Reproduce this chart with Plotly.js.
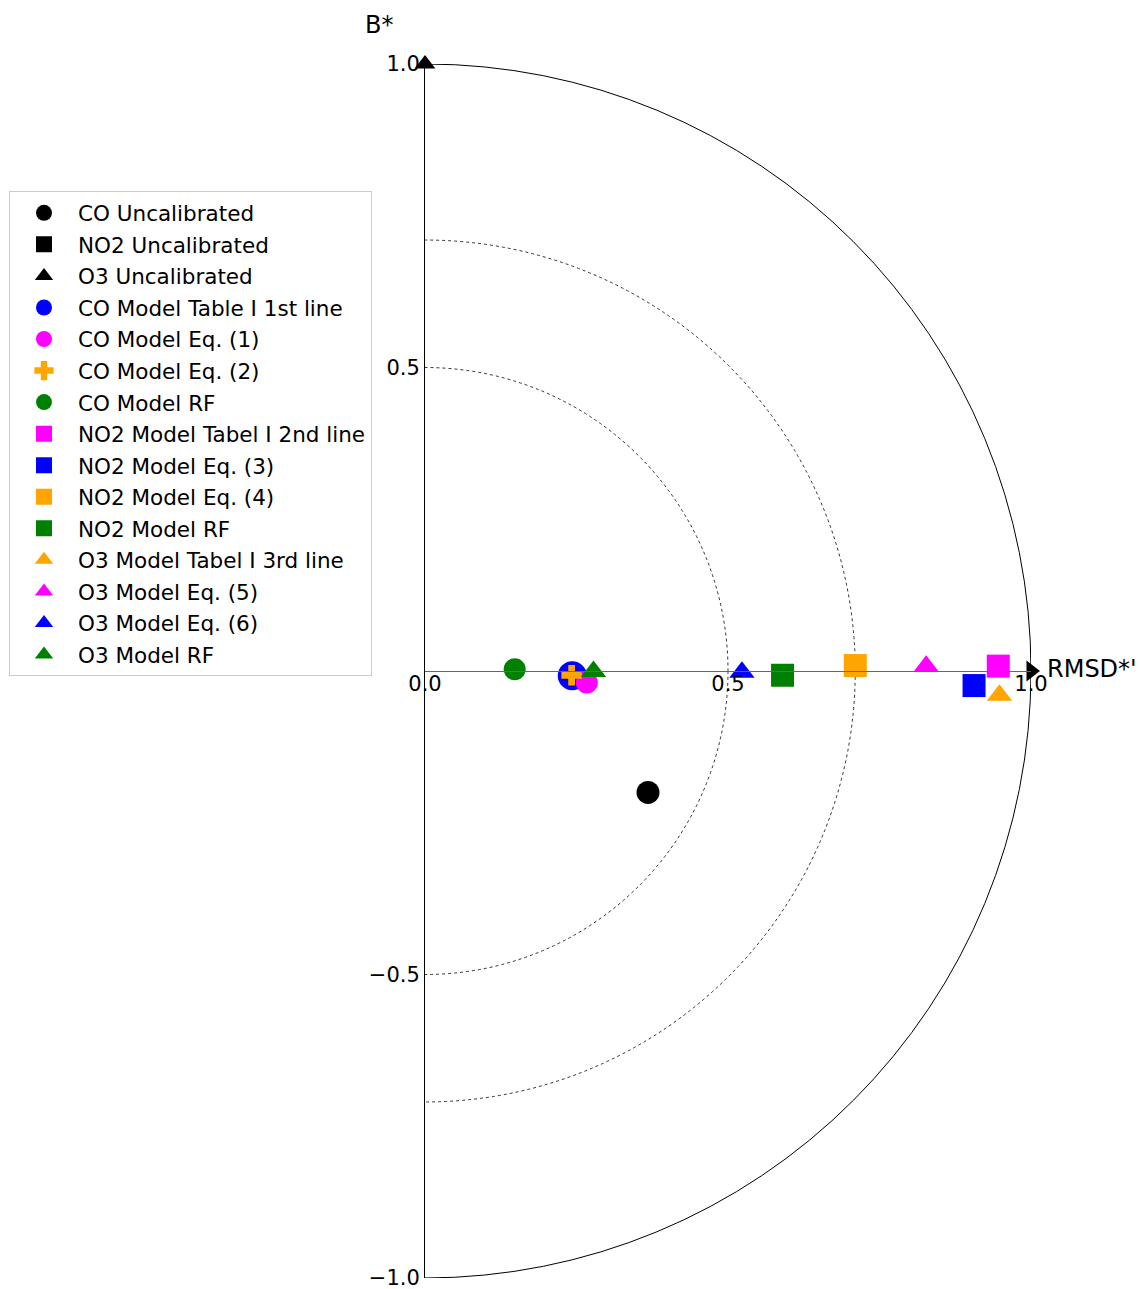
<!DOCTYPE html>
<html>
<head>
<meta charset="utf-8">
<script src="https://cdn.plot.ly/plotly-3.0.1.min.js"></script>
<style>html,body{margin:0;padding:0;background:#fff;}#chart{width:1140px;height:1289px;}</style>
</head>
<body>
<div id="chart"></div>
<script>
// ---- data (normalized target-diagram coordinates) ----
const seriesNames = [
  "CO Uncalibrated", "NO2 Uncalibrated", "O3 Uncalibrated",
  "CO Model Table I 1st line", "CO Model Eq. (1)", "CO Model Eq. (2)", "CO Model RF",
  "NO2 Model Tabel I 2nd line", "NO2 Model Eq. (3)", "NO2 Model Eq. (4)", "NO2 Model RF",
  "O3 Model Tabel I 3rd line", "O3 Model Eq. (5)", "O3 Model Eq. (6)", "O3 Model RF"
];
// RMSD*' (x) and B* (y); NO2/O3 uncalibrated fall outside the plotted area
const rmsdValues = [0.368, null, null, 0.243, 0.267, 0.242, 0.148, 0.946, 0.906, 0.710, 0.590, 0.948, 0.827, 0.523, 0.278];
const biasValues = [-0.200, null, null, -0.008, -0.019, -0.007, 0.003, 0.008, -0.024, 0.009, -0.007, -0.040, 0.008, -0.002, -0.001];
const seriesColors = ["#000000", "#000000", "#000000", "#0000ff", "#ff00ff", "#ffa500", "#008000",
  "#ff00ff", "#0000ff", "#ffa500", "#008000", "#ffa500", "#ff00ff", "#0000ff", "#008000"];
const seriesSymbols = ["circle", "square", "triangle-up", "circle", "circle", "cross", "circle",
  "square", "square", "square", "square", "triangle-up", "triangle-up", "triangle-up", "triangle-up"];
const seriesSizes = [23, 23, 22, 29, 22, 17, 22, 23, 23, 23, 23, 22, 22, 22, 22];
const xTicks = [0, 0.5, 1.0];
const yTicks = [-1.0, -0.5, 0.5, 1.0];
const circleRadii = [0.5, 0.71, 1.0];

const FONT = "DejaVu Sans, Liberation Sans, sans-serif";
const xRange = [0, 1.0];
const yRange = [-1.0, 1.0];

const traces = seriesNames.map((name, i) => ({
  type: "scatter", mode: "markers", name: name,
  x: [rmsdValues[i]], y: [biasValues[i]],
  legendgroup: "g" + i,
  marker: { symbol: seriesSymbols[i], size: seriesSizes[i], color: seriesColors[i], line: { width: 0 } },
  cliponaxis: true
}));

// axis arrows
traces.push({
  type: "scatter", mode: "markers", showlegend: false, hoverinfo: "skip",
  x: [xRange[1], 0], y: [0, yRange[1]],
  marker: { symbol: ["triangle-right", "triangle-up"], size: 18, color: "#000", line: { width: 0 } },
  cliponaxis: false
});

const shapes = circleRadii.map(r => ({
  type: "circle", xref: "x", yref: "y",
  x0: -r, x1: r, y0: -r, y1: r,
  line: { color: "#000", width: r === 1.0 ? 1 : 0.8, dash: r === 1.0 ? "solid" : "dot" },
  layer: "below"
}));

const layout = {
  width: 1140, height: 1289,
  margin: { l: 424, r: 109, t: 64, b: 11 },
  paper_bgcolor: "#fff", plot_bgcolor: "rgba(0,0,0,0)",
  font: { family: FONT, size: 21, color: "#000" },
  showlegend: true,
  legend: {
    x: -0.6837, y: 0.8951, xanchor: "left", yanchor: "top",
    bgcolor: "#fff", bordercolor: "#cccccc", borderwidth: 1,
    font: { family: FONT, size: 21.5, color: "#000" },
    tracegroupgap: 0.6, itemwidth: 58
  },
  xaxis: {
    range: xRange, anchor: "free", position: 0.5,
    tickvals: xTicks, tickformat: ".1f", ticks: "", ticklabelstandoff: -6,
    ticklabeloverflow: "allow",
    showgrid: false, zeroline: false,
    showline: true, linecolor: "#666", linewidth: 1.2,
    tickfont: { family: FONT, size: 21 }, fixedrange: true
  },
  yaxis: {
    range: yRange, tickvals: yTicks, tickformat: ".1f", ticks: "",
    ticklabeloverflow: "allow",
    showgrid: false, zeroline: false,
    showline: true, linecolor: "#000", linewidth: 1,
    tickfont: { family: FONT, size: 21 }, fixedrange: true
  },
  shapes: shapes,
  annotations: [
    { text: "B*", xref: "paper", yref: "paper", x: -0.0758, y: 1.032, showarrow: false,
      font: { family: FONT, size: 24 }, xanchor: "center", yanchor: "middle" },
    { text: "RMSD*'", xref: "paper", yref: "paper", x: 1.023, y: 0.5015, showarrow: false,
      font: { family: FONT, size: 24 }, xanchor: "left", yanchor: "middle" }
  ]
};

Plotly.newPlot("chart", traces, layout, { displayModeBar: false, staticPlot: true });
</script>
</body>
</html>
